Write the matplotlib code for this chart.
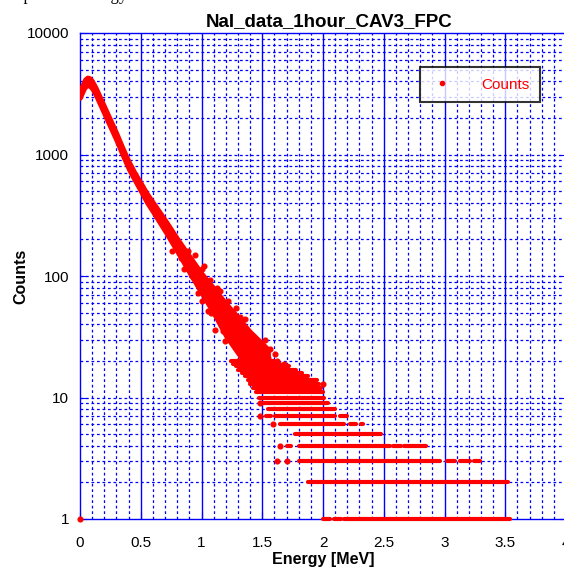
import matplotlib
matplotlib.use("Agg")
import matplotlib.pyplot as plt
from matplotlib.lines import Line2D

# ---- data ----
band_energy = [0.00, 0.02, 0.04, 0.06, 0.08, 0.10, 0.13, 0.17, 0.21, 0.25, 0.30, 0.35,
               0.40, 0.45, 0.50, 0.55, 0.60, 0.70, 0.80, 0.90, 1.00, 1.10, 1.20, 1.30,
               1.40, 1.50, 1.55]
band_low = [2910, 3230, 3555, 3690, 3645, 3460, 3045, 2490, 2030, 1660, 1290, 980,
            755, 610, 495, 400, 335, 232, 158, 106, 72, 49, 32, 23, 17, 13, 12]
band_high = [3410, 3790, 4170, 4330, 4280, 4060, 3575, 2925, 2385, 1950, 1515, 1150,
             890, 715, 590, 483, 408, 292, 205, 147, 106, 80, 60, 46, 35, 28, 25]

# integer count levels: energy segments where the points are dense
level_counts = [1, 1, 1, 1,
                2, 2, 2,
                3, 3, 3, 3, 3, 3, 3, 3,
                4, 4, 4, 4, 4,
                5, 5, 5, 5,
                6, 6, 6, 6,
                7, 7, 7, 7, 7,
                8, 8, 9, 10, 11, 12, 13, 14, 15, 16, 17, 18, 19, 20]
level_start = [1.94, 2.00, 2.09, 2.17,
               1.797, 1.838, 1.88,
               1.62, 1.695, 1.80, 3.02, 3.13, 3.24, 3.375, 3.49,
               1.65, 1.70, 1.80, 2.58, 2.67,
               1.695, 1.74, 1.77, 2.74,
               1.59, 1.645, 2.22, 2.31,
               1.48, 1.53, 1.605, 2.14, 2.44,
               1.48, 1.55, 1.50, 1.47, 1.45, 1.42, 1.40, 1.38, 1.36, 1.33, 1.30, 1.28, 1.26, 1.24]
level_end = [1.94, 2.06, 2.15, 3.535,
             1.797, 1.838, 3.525,
             1.62, 1.695, 2.96, 3.09, 3.21, 3.29, 3.375, 3.49,
             1.65, 1.74, 2.55, 2.64, 2.85,
             1.695, 1.74, 2.48, 2.74,
             1.59, 2.17, 2.27, 2.33,
             1.48, 1.57, 2.10, 2.20, 2.44,
             1.48, 2.10, 2.04, 2.01, 2.00, 1.98, 1.97, 1.95, 1.88, 1.83, 1.78, 1.72, 1.65, 1.60]

# scattered single points
dot_energy = [0.00, 0.755, 0.83, 0.86, 0.88, 0.89, 0.92, 0.95, 0.97, 0.98, 1.00, 1.00,
              1.02, 1.04, 1.05, 1.07, 1.08, 1.11, 1.13, 1.15, 1.16, 1.18, 1.19, 1.22,
              1.25, 1.26, 1.28, 1.30, 1.32, 1.34, 1.36, 1.385, 1.39, 1.40, 1.42, 1.43,
              1.44, 1.45, 1.47, 1.48, 1.495, 1.52, 1.55, 1.56, 1.58, 1.605, 1.62, 1.66,
              1.68, 1.72, 1.74, 1.77, 1.84, 1.84, 2.00, 1.62, 1.70, 1.59, 1.48, 1.65]
dot_counts = [1, 160, 140, 115, 140, 160, 100, 150, 72, 110, 62, 115,
              120, 68, 52, 93, 50, 36, 80, 75, 40, 35, 29, 62,
              30, 46, 55, 20, 46, 25, 44, 35, 18, 14, 32, 27,
              14, 20, 16, 9, 12, 30, 21, 25, 18, 23, 20, 16,
              19, 14, 15, 15, 14, 13, 13, 3, 3, 6, 7, 4]

x_ticks = [0, 0.5, 1, 1.5, 2, 2.5, 3, 3.5, 4]
x_tick_labels = ["0", "0.5", "1", "1.5", "2", "2.5", "3", "3.5", "4"]
y_ticks = [1, 10, 100, 1000, 10000]
y_tick_labels = ["1", "10", "100", "1000", "10000"]

# ---- figure ----
plt.rcParams['font.family'] = ['Liberation Sans', 'DejaVu Sans']
fig = plt.figure(figsize=(5.64, 5.73), dpi=100)
ax = fig.add_axes([80/564, 1-519/573, 486/564, 486/573])

blue = (0, 0, 1)
red = (1, 0, 0)

ax.set_yscale('log')
ax.set_xlim(0, 4)
ax.set_ylim(1, 10000)

# grid
for xv in [i/10 for i in range(1, 40)]:
    if abs(xv*2 - round(xv*2)) < 1e-9:
        ax.axvline(xv, color=blue, lw=1.0, zorder=1)
    else:
        ax.axvline(xv, color=blue, lw=0.9, ls=(0, (2.2, 2.2)), zorder=1)
for dec in [1, 10, 100, 1000]:
    for m in range(1, 10):
        v = dec*m
        if v <= 1:
            continue
        ax.axhline(v, color=blue, lw=0.9, ls=(0, (2.2, 2.2)), zorder=1)

# data
ax.fill_between(band_energy, band_low, band_high, color=red, lw=3.0, edgecolor=red,
                joinstyle='round', zorder=3)
ax.hlines(level_counts, level_start, level_end, colors=red, lw=3.0, capstyle='round',
          zorder=3, clip_on=False)
ax.plot(dot_energy, dot_counts, ls='none', marker='o', ms=3.4, color=red, mec=red, zorder=4,
        clip_on=False)

# ticks
ax.set_xticks(x_ticks)
ax.set_xticklabels(x_tick_labels)
ax.set_yticks(y_ticks)
ax.set_yticklabels(y_tick_labels)
ax.yaxis.set_minor_locator(matplotlib.ticker.NullLocator())
ax.tick_params(axis='both', which='major', direction='in', color=blue, length=5,
               labelsize=11, labelcolor='black', right=True, top=False)
ax.tick_params(axis='x', pad=12)
ax.tick_params(axis='y', pad=8)
for s in ax.spines.values():
    s.set_color(blue)
    s.set_linewidth(1.0)

ax.set_title("NaI_data_1hour_CAV3_FPC", fontsize=13.5, fontweight='bold', pad=5, x=0.513)
ax.set_xlabel("Energy [MeV]", fontsize=11.5, fontweight='bold')
ax.xaxis.set_label_coords(0.5, -0.068)
ax.set_ylabel("Counts", fontsize=11.5, fontweight='bold')
ax.yaxis.set_label_coords(-0.107, 0.5)

handle = Line2D([], [], ls='none', marker='o', ms=3, color=red)
leg = ax.legend([handle], ["Counts"], loc='upper right', bbox_to_anchor=(0.947, 0.930),
                frameon=True, fancybox=False, fontsize=11, handletextpad=1.8,
                borderpad=0.7, borderaxespad=0, handlelength=1.5)
leg.get_frame().set_edgecolor('black')
leg.get_frame().set_linewidth(1.5)
for t in leg.get_texts():
    t.set_color(red)

fig.text(17/564, 1.0, "spectrum energy", fontsize=12, family='Liberation Serif',
         va='baseline', ha='left')

fig.savefig("out.png", dpi=100)
